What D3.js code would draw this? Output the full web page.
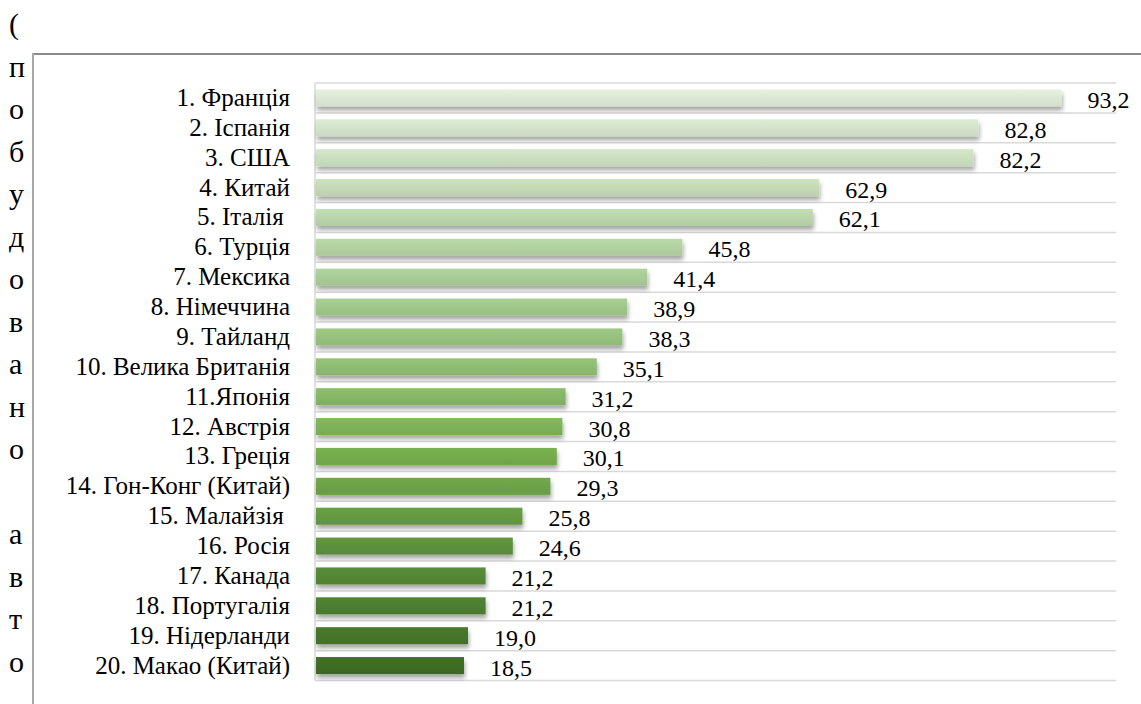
<!DOCTYPE html>
<html>
<head>
<meta charset="utf-8">
<script src="https://cdn.jsdelivr.net/npm/d3@7"></script>
</head>
<body style="margin:0">
<svg id="chart" width="1141" height="704"></svg>
<script>
const categories = ["1. Франція","2. Іспанія","3. США","4. Китай","5. Італія ","6. Турція","7. Мексика","8. Німеччина","9. Тайланд","10. Велика Британія","11.Японія","12. Австрія","13. Греція","14. Гон-Конг (Китай)","15. Малайзія ","16. Росія","17. Канада","18. Португалія","19. Нідерланди","20. Макао (Китай)"];
const values = [93.2,82.8,82.2,62.9,62.1,45.8,41.4,38.9,38.3,35.1,31.2,30.8,30.1,29.3,25.8,24.6,21.2,21.2,19.0,18.5];
const sideLetters = ["(","п","о","б","у","д","о","в","а","н","о","","а","в","т","о"];
const colorStops = ["#dce8d5","#a9cc96","#74ab4e","#3e6c24"];

const svg = d3.select("#chart");
const W = 1141, H = 704;

const x = d3.scaleLinear().domain([0,100]).range([316,1116]);
const y = d3.scaleBand().domain(categories).range([83,680.5]).paddingInner(0.43).paddingOuter(0.215);
const step = y.step();
const y0 = 83;

const color = d3.scaleLinear()
  .domain([0, 6, 12, categories.length-1])
  .range(colorStops).interpolate(d3.interpolateRgb);

const defs = svg.append("defs");
const f = defs.append("filter").attr("id","shadow").attr("x","-5%").attr("y","-50%").attr("width","110%").attr("height","250%");
f.append("feDropShadow").attr("dx",1).attr("dy",4).attr("stdDeviation",2)
  .attr("flood-color","#000").attr("flood-opacity",0.35);

categories.forEach((c,i)=>{
  const base = d3.color(color(i));
  const g = defs.append("linearGradient").attr("id","g"+i).attr("x1",0).attr("x2",0).attr("y1",0).attr("y2",1);
  g.append("stop").attr("offset","0%").attr("stop-color", base.brighter(0.12).formatHex());
  g.append("stop").attr("offset","100%").attr("stop-color", base.darker(0.12).formatHex());
});

// Frame
svg.append("line").attr("x1",33).attr("x2",W).attr("y1",54).attr("y2",54)
  .attr("stroke","#8a8a8a").attr("stroke-width",2);
svg.append("line").attr("x1",33).attr("x2",33).attr("y1",53).attr("y2",H)
  .attr("stroke","#a8a8a8").attr("stroke-width",2);

// Gridlines
const gridY = d3.range(categories.length+1).map(i=>y0+i*step);
gridY.forEach(gy=>{
  svg.append("line").attr("x1",x(0)-1).attr("x2",x(100)).attr("y1",gy).attr("y2",gy)
    .attr("stroke","#d9d9d9").attr("stroke-width",1.5);
});
svg.append("line").attr("x1",x(0)-1).attr("x2",x(0)-1).attr("y1",y0).attr("y2",gridY[gridY.length-1])
  .attr("stroke","#d9d9d9").attr("stroke-width",1.5);

// Bars
values.forEach((v,i)=>{
  svg.append("rect").attr("x",x(0)).attr("y",y(categories[i]))
    .attr("width",x(v)-x(0)).attr("height",y.bandwidth())
    .attr("fill","url(#g"+i+")").attr("filter","url(#shadow)");
});

// Side letters (wrapped text)
sideLetters.forEach((d,i)=>{
  svg.append("text").attr("x",9).attr("y",34+i*42.5)
    .attr("font-size",30).style("font-family","'Liberation Serif'")
    .attr("fill","#000").text(d);
});

// Category labels
categories.forEach(c=>{
  svg.append("text").attr("x",290).attr("y",y(c)+y.bandwidth()/2+8)
    .attr("text-anchor","end").attr("font-size",25).style("font-family","'Liberation Serif'")
    .style("white-space","pre").attr("fill","#000").text(c);
});

// Value labels
const loc = d3.formatLocale({decimal:",",thousands:" ",grouping:[3],currency:["",""]});
const fmt = loc.format(".1f");
values.forEach((v,i)=>{
  svg.append("text").attr("x",x(v)+26).attr("y",y(categories[i])+y.bandwidth()/2+10)
    .attr("font-size",24).style("font-family","'Liberation Serif'")
    .attr("fill","#000").text(fmt(v));
});
</script>
</body>
</html>
